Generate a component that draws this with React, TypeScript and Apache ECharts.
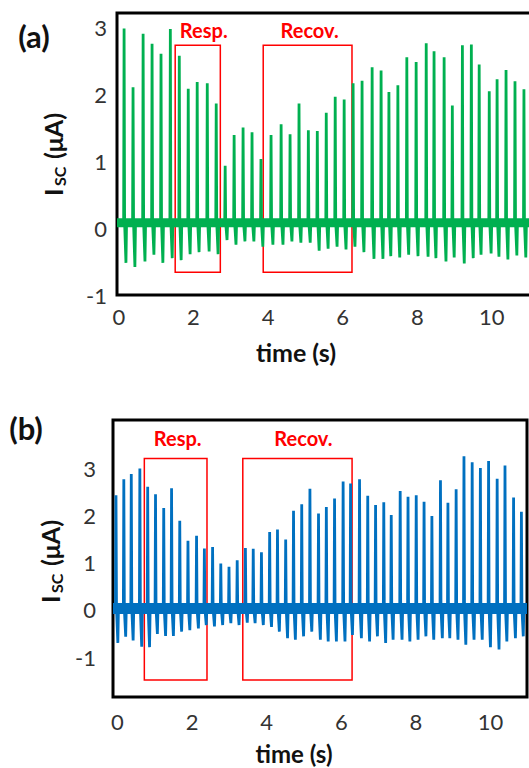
import React, { useEffect, useRef } from 'react';
import * as echarts from 'echarts';

const FONT = 'Lato, "Open Sans", "DejaVu Sans", sans-serif';
const GREEN = '#00B050';
const BLUE = '#0070C0';
const RED = '#FF0000';

const X_TICKS = [0, 2, 4, 6, 8, 10];
const Y_TICKS = [-1, 0, 1, 2, 3];

// Panel (a): pulse times (s), peak and trough currents (µA)
const timesA = [0.14, 0.38, 0.65, 0.89, 1.13, 1.38, 1.62, 1.86, 2.10, 2.37, 2.61, 2.85, 3.09, 3.33, 3.57, 3.81,
  4.08, 4.35, 4.59, 4.83, 5.08, 5.32, 5.56, 5.80, 6.04, 6.28, 6.52, 6.79, 7.03, 7.24, 7.48, 7.72, 7.97, 8.24,
  8.45, 8.72, 8.94, 9.21, 9.45, 9.66, 9.93, 10.14, 10.38, 10.62, 10.86];
const peaksA = [2.98, 2.10, 2.90, 2.75, 2.60, 2.97, 2.57, 2.08, 2.18, 2.16, 1.86, 0.93, 1.39, 1.50, 1.43, 1.03,
  1.39, 1.55, 1.40, 1.86, 1.46, 1.45, 1.72, 1.96, 1.92, 2.16, 2.20, 2.40, 2.35, 2.03, 2.13, 2.55, 2.48, 2.76,
  2.64, 2.55, 1.83, 2.73, 2.74, 2.44, 2.04, 2.22, 2.36, 2.19, 2.07];
const troughsA = [-0.52, -0.58, -0.50, -0.40, -0.52, -0.45, -0.48, -0.39, -0.36, -0.35, -0.39, -0.18, -0.25, -0.20, -0.20, -0.28,
  -0.25, -0.25, -0.20, -0.22, -0.22, -0.34, -0.31, -0.28, -0.32, -0.28, -0.36, -0.46, -0.46, -0.42, -0.44, -0.40, -0.42, -0.43,
  -0.45, -0.50, -0.44, -0.53, -0.45, -0.40, -0.38, -0.43, -0.47, -0.41, -0.44];
const BASE_A = 0.08;

// Panel (b)
const timesB = [-0.04, 0.17, 0.37, 0.60, 0.81, 1.02, 1.24, 1.45, 1.67, 1.89, 2.12, 2.33, 2.55, 2.77, 2.99, 3.21, 3.43,
  3.64, 3.86, 4.08, 4.29, 4.51, 4.72, 4.94, 5.16, 5.39, 5.60, 5.82, 6.05, 6.25, 6.49, 6.71, 6.92, 7.14, 7.34, 7.58,
  7.79, 8.01, 8.22, 8.43, 8.66, 8.86, 9.08, 9.29, 9.51, 9.73, 9.95, 10.18, 10.39, 10.62, 10.83];
const peaksB = [2.44, 2.78, 2.89, 3.01, 2.62, 2.46, 2.17, 2.59, 1.90, 1.47, 1.58, 1.31, 1.34, 0.99, 0.92, 1.06, 1.32,
  1.30, 1.23, 1.66, 1.71, 1.50, 2.11, 2.25, 2.58, 2.05, 2.19, 2.37, 2.73, 2.69, 2.78, 2.43, 2.23, 2.29, 2.02, 2.53,
  2.41, 2.44, 2.30, 2.00, 2.76, 2.28, 2.57, 3.27, 3.14, 3.02, 3.17, 2.79, 3.07, 2.39, 2.09];
const troughsB = [-0.70, -0.57, -0.65, -0.78, -0.79, -0.51, -0.55, -0.55, -0.46, -0.43, -0.39, -0.32, -0.35, -0.32, -0.28, -0.32, -0.27,
  -0.28, -0.32, -0.36, -0.46, -0.60, -0.63, -0.56, -0.46, -0.63, -0.67, -0.67, -0.67, -0.53, -0.60, -0.67, -0.56, -0.70, -0.63, -0.63,
  -0.67, -0.63, -0.56, -0.63, -0.60, -0.60, -0.63, -0.74, -0.63, -0.63, -0.79, -0.84, -0.67, -0.60, -0.56];
const BASE_B = 0.03;

// Highlight boxes: [xStart, xEnd, yLow, yHigh]
const respA = [1.51, 2.72, -0.66, 2.73];
const recovA = [3.87, 6.25, -0.66, 2.73];
const respB = [0.72, 2.40, -1.49, 3.22];
const recovB = [3.36, 6.29, -1.49, 3.22];

function buildPulses(times: number[], peaks: number[], troughs: number[], base: number) {
  const pts: number[][] = [];
  times.forEach((t, i) => {
    pts.push([t - 0.012, base], [t, peaks[i]], [t + 0.014, base], [t + 0.05, troughs[i]], [t + 0.066, base]);
  });
  return pts;
}

function boxItem(b: number[], name: string, offset: number[]) {
  return [
    { name, coord: [b[0], b[3]], label: { offset } },
    { coord: [b[1], b[2]] },
  ];
}

export default function App() {
  const ref = useRef<HTMLDivElement>(null);
  useEffect(() => {
    if (!ref.current) return;
    const chart = echarts.init(ref.current, null, { renderer: 'svg' });
    const axisLabel = { fontSize: 22, color: '#333', fontFamily: FONT };
    const hidden = { axisLine: { show: false }, axisTick: { show: false }, splitLine: { show: false } };
    const markLabel = { show: true, position: 'top', color: RED, fontWeight: 'bold', fontSize: 20, fontFamily: FONT };
    const markStyle = { color: 'rgba(0,0,0,0)', borderColor: RED, borderWidth: 1.5 };

    const yTitle = (x: number, y: number) => ({
      type: 'group', x, y, rotation: Math.PI / 2,
      children: [
        { type: 'text', x: -41, y: 0, style: { text: 'I', font: `bold 25px ${FONT}`, fill: '#111', align: 'left', verticalAlign: 'middle' } },
        { type: 'text', x: -31, y: 6, style: { text: 'SC', font: `bold 16px ${FONT}`, fill: '#111', align: 'left', verticalAlign: 'middle' } },
        { type: 'text', x: 42, y: 0, style: { text: '(μA)', font: `bold 25px ${FONT}`, fill: '#111', align: 'right', verticalAlign: 'middle' } },
      ],
    });

    chart.setOption({
      animation: false,
      backgroundColor: '#fff',
      grid: [
        { left: 117, top: 13, width: 420, height: 282, show: true, borderColor: '#000', borderWidth: 3, outerBoundsMode: 'none', containLabel: false },
        { left: 113, top: 420, width: 414, height: 277, show: true, borderColor: '#000', borderWidth: 3, outerBoundsMode: 'none', containLabel: false },
      ],
      xAxis: [
        { gridIndex: 0, type: 'value', min: -0.05, max: 11.21, ...hidden, axisLabel: { ...axisLabel, margin: 10, customValues: X_TICKS } },
        { gridIndex: 1, type: 'value', min: -0.12, max: 10.98, ...hidden, axisLabel: { ...axisLabel, margin: 13, customValues: X_TICKS } },
      ],
      yAxis: [
        { gridIndex: 0, type: 'value', min: -1, max: 3.21, ...hidden, axisLabel: { ...axisLabel, margin: 10, customValues: Y_TICKS } },
        { gridIndex: 1, type: 'value', min: -1.85, max: 4.04, ...hidden, axisLabel: { ...axisLabel, margin: 17, customValues: Y_TICKS } },
      ],
      series: [
        {
          type: 'line', xAxisIndex: 0, yAxisIndex: 0, symbol: 'none', z: 2,
          data: [[-0.05, BASE_A], [11.21, BASE_A]], lineStyle: { color: GREEN, width: 9 },
        },
        {
          type: 'line', xAxisIndex: 0, yAxisIndex: 0, symbol: 'none', z: 3,
          data: buildPulses(timesA, peaksA, troughsA, BASE_A), lineStyle: { color: GREEN, width: 2.8 },
        },
        {
          type: 'line', xAxisIndex: 0, yAxisIndex: 0, symbol: 'none', z: 5, data: [],
          markArea: { silent: true, label: markLabel, itemStyle: markStyle,
            data: [boxItem(respA, 'Resp.', [6, 1]), boxItem(recovA, 'Recov.', [2, 1])] },
        },
        {
          type: 'line', xAxisIndex: 1, yAxisIndex: 1, symbol: 'none', z: 2,
          data: [[-0.12, BASE_B], [10.98, BASE_B]], lineStyle: { color: BLUE, width: 11 },
        },
        {
          type: 'line', xAxisIndex: 1, yAxisIndex: 1, symbol: 'none', z: 3,
          data: buildPulses(timesB, peaksB, troughsB, BASE_B), lineStyle: { color: BLUE, width: 2.8 },
        },
        {
          type: 'line', xAxisIndex: 1, yAxisIndex: 1, symbol: 'none', z: 5, data: [],
          markArea: { silent: true, label: markLabel, itemStyle: markStyle,
            data: [boxItem(respB, 'Resp.', [2, -5]), boxItem(recovB, 'Recov.', [6, -5])] },
        },
      ],
      graphic: [
        { type: 'text', x: 34, y: 36, style: { text: '(a)', font: `bold 31px ${FONT}`, fill: '#111', align: 'center', verticalAlign: 'middle' } },
        { type: 'text', x: 26, y: 428, style: { text: '(b)', font: `bold 31px ${FONT}`, fill: '#111', align: 'center', verticalAlign: 'middle' } },
        { type: 'text', x: 296, y: 352, style: { text: 'time (s)', font: `bold 25px ${FONT}`, fill: '#111', align: 'center', verticalAlign: 'middle' } },
        { type: 'text', x: 294, y: 753, style: { text: 'time (s)', font: `bold 24px ${FONT}`, fill: '#111', align: 'center', verticalAlign: 'middle' } },
        yTitle(53, 155),
        yTitle(50, 562),
      ],
    });
    return () => chart.dispose();
  }, []);
  return <div ref={ref} style={{ position: 'absolute', left: 0, top: 0, width: 529, height: 768, background: '#fff' }} />;
}
